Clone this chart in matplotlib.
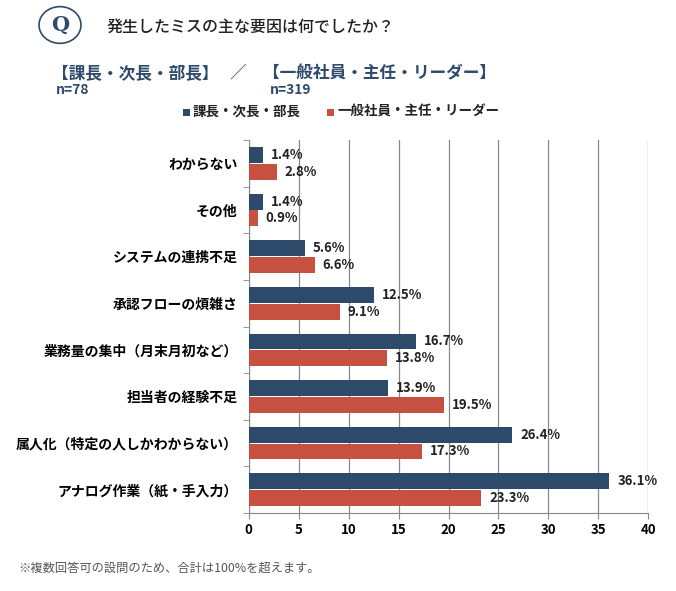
import matplotlib

matplotlib.use("Agg")
import matplotlib.pyplot as plt
import numpy as np
from matplotlib.patches import Circle, Rectangle

plt.rcParams["font.family"] = ["Noto Sans CJK JP", "DejaVu Sans"]

categories = [
    "わからない",
    "その他",
    "システムの連携不足",
    "承認フローの煩雑さ",
    "業務量の集中（月末月初など）",
    "担当者の経験不足",
    "属人化（特定の人しかわからない）",
    "アナログ作業（紙・手入力）",
]
managers = [1.4, 1.4, 5.6, 12.5, 16.7, 13.9, 26.4, 36.1]
staff = [2.8, 0.9, 6.6, 9.1, 13.8, 19.5, 17.3, 23.3]
series_names = ["課長・次長・部長", "一般社員・主任・リーダー"]
sample_sizes = ["n=78", "n=319"]
xticks = [0, 5, 10, 15, 20, 25, 30, 35, 40]

navy = "#2E4A6B"
red = "#C75140"

fig = plt.figure(figsize=(6.76, 5.91), dpi=100)
ax = fig.add_axes([0.368, 0.132, 0.591, 0.631])

y = np.arange(len(categories))
h = 0.34
ax.barh(y - h / 2 - 0.01, managers, height=h, color=navy, zorder=3)
ax.barh(y + h / 2 + 0.01, staff, height=h, color=red, zorder=3)

for yi, v in zip(y, managers):
    ax.text(v + 0.8, yi - h / 2 - 0.01, f"{v}%", va="center", ha="left",
            fontsize=9.5, fontweight="bold", color="#222222")
for yi, v in zip(y, staff):
    ax.text(v + 0.8, yi + h / 2 + 0.01, f"{v}%", va="center", ha="left",
            fontsize=9.5, fontweight="bold", color="#222222")

ax.set_xlim(0, 40)
ax.set_ylim(len(categories) - 0.5, -0.5)
ax.set_xticks(xticks)
ax.set_xticklabels([str(t) for t in xticks], fontsize=9.5, fontweight="bold")
ax.set_yticks(y)
ax.set_yticklabels(categories, fontsize=10, fontweight="bold")
ax.tick_params(axis="y", length=0, pad=8)
ax.set_yticks(np.arange(-0.5, len(categories), 1), minor=True)
ax.tick_params(axis="y", which="minor", length=4, color="#888888")
ax.tick_params(axis="x", length=4, color="#888888")
ax.grid(axis="x", color="#888888", linewidth=0.9, zorder=0)
for s in ["top", "right"]:
    ax.spines[s].set_visible(False)
for s in ["left", "bottom"]:
    ax.spines[s].set_color("#888888")

# header
fig.patches.append(Circle((60 / 676, 1 - 25 / 591), 21 / 676, transform=fig.transFigure,
                          facecolor="white", edgecolor=navy, linewidth=1.2))
fig.text(60 / 676, 1 - 25 / 591, "Q", ha="center", va="center", fontsize=15,
         fontweight="bold", color=navy, family=["DejaVu Serif"])
fig.text(107 / 676, 1 - 27 / 591, "発生したミスの主な要因は何でしたか？", ha="left",
         va="center", fontsize=11.5, fontweight="medium", color="#222222")

fig.text(52 / 676, 1 - 73 / 591, f"【{series_names[0]}】", ha="left", va="center",
         fontsize=12, fontweight="bold", color=navy)
fig.text(56 / 676, 1 - 90 / 591, sample_sizes[0], ha="left", va="center",
         fontsize=10, fontweight="bold", color=navy)
fig.text(238 / 676, 1 - 73 / 591, "／", ha="center", va="center",
         fontsize=12, color=navy)
fig.text(263 / 676, 1 - 73 / 591, f"【{series_names[1]}】", ha="left", va="center",
         fontsize=12, fontweight="bold", color=navy)
fig.text(270 / 676, 1 - 90 / 591, sample_sizes[1], ha="left", va="center",
         fontsize=10, fontweight="bold", color=navy)

# legend
for x0, name, col in [(183, series_names[0], navy), (327, series_names[1], red)]:
    fig.patches.append(Rectangle((x0 / 676, 1 - 116 / 591), 7 / 676, 7 / 591,
                                 transform=fig.transFigure, facecolor=col, edgecolor="none"))
    fig.text((x0 + 10) / 676, 1 - 112 / 591, name, ha="left", va="center",
             fontsize=9.7, fontweight="bold", color="#222222")

fig.text(18 / 676, 1 - 568 / 591, "※複数回答可の設問のため、合計は100%を超えます。",
         ha="left", va="center", fontsize=8.8, color="#555555")

fig.savefig("out.png", dpi=100)
